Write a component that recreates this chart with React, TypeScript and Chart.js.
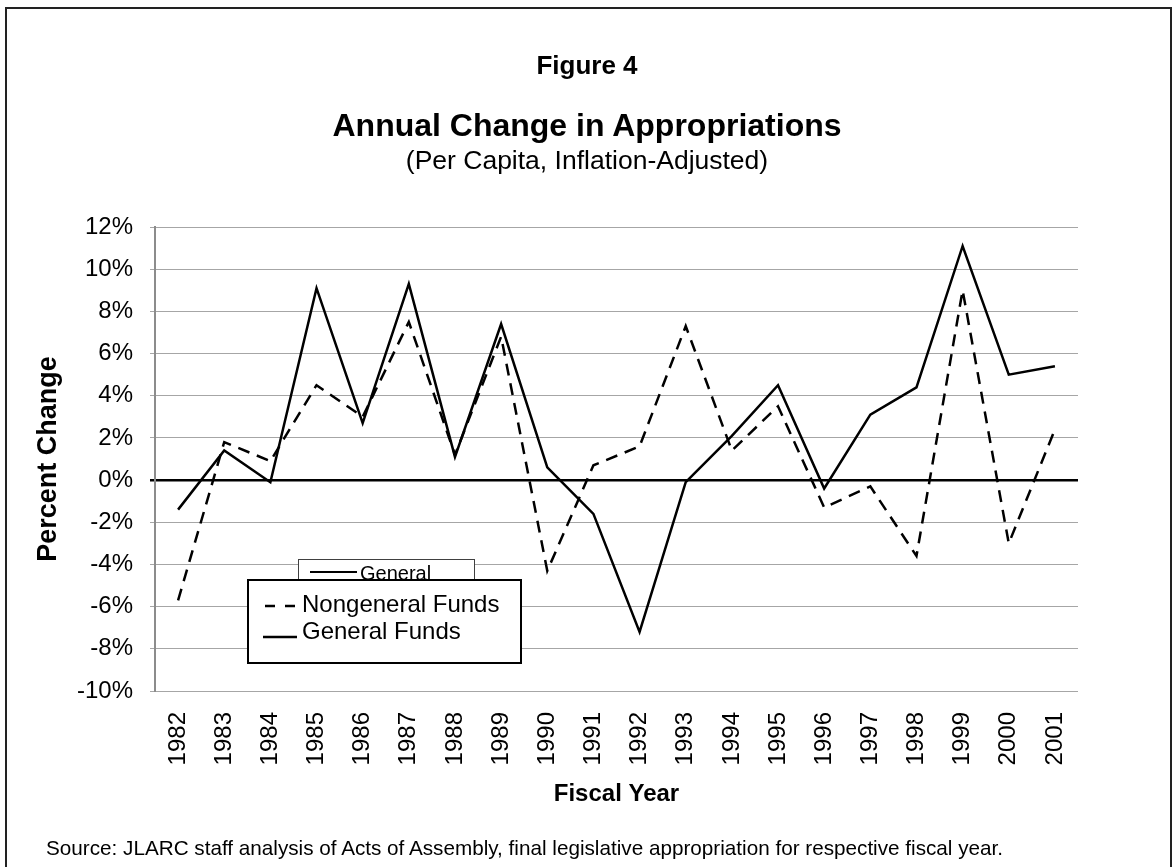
import React, { useEffect, useRef } from "react";
import { Chart, registerables } from "chart.js";

Chart.register(...registerables);

const years = [
  "1982", "1983", "1984", "1985", "1986", "1987", "1988", "1989", "1990", "1991",
  "1992", "1993", "1994", "1995", "1996", "1997", "1998", "1999", "2000", "2001",
];
const generalFunds = [
  -1.4, 1.4, -0.1, 9.1, 2.7, 9.3, 1.1, 7.4, 0.6, -1.6,
  -7.2, -0.1, 2.1, 4.5, -0.4, 3.1, 4.4, 11.1, 5.0, 5.4,
];
const nongeneralFunds = [
  -5.7, 1.8, 0.9, 4.5, 3.0, 7.5, 1.2, 6.8, -4.3, 0.7,
  1.6, 7.3, 1.4, 3.5, -1.3, -0.3, -3.6, 9.0, -3.0, 2.4,
];
const yMin = -10;
const yMax = 12;
const yStep = 2;

const FONT = '"Liberation Sans", Arial, Helvetica, sans-serif';

const legendPlugin = {
  id: "customLegend",
  afterDraw(chart: any) {
    const { ctx, chartArea: a } = chart;
    ctx.save();
    // back (stale) legend box
    const bx = a.left + 143;
    const by = a.top + 332;
    ctx.fillStyle = "#fff";
    ctx.fillRect(bx, by, 176, 40);
    ctx.strokeStyle = "#404040";
    ctx.lineWidth = 1;
    ctx.strokeRect(bx + 0.5, by + 0.5, 176, 40);
    ctx.beginPath();
    ctx.moveTo(bx + 12, by + 13);
    ctx.lineTo(bx + 59, by + 13);
    ctx.lineWidth = 2;
    ctx.strokeStyle = "#000";
    ctx.stroke();
    ctx.font = "20px " + FONT;
    ctx.fillStyle = "#000";
    ctx.textBaseline = "middle";
    ctx.textAlign = "left";
    ctx.fillText("General", bx + 62, by + 15);

    // front legend box
    const fx = a.left + 93;
    const fy = a.top + 353;
    const fw = 273;
    const fh = 83;
    ctx.fillStyle = "#fff";
    ctx.fillRect(fx, fy, fw, fh);
    ctx.strokeStyle = "#000";
    ctx.lineWidth = 2;
    ctx.strokeRect(fx, fy, fw, fh);

    // dashed sample
    ctx.beginPath();
    ctx.setLineDash([10, 10]);
    ctx.moveTo(fx + 17, fy + 26);
    ctx.lineTo(fx + 49, fy + 26);
    ctx.lineWidth = 2.5;
    ctx.stroke();
    ctx.setLineDash([]);
    // solid sample
    ctx.beginPath();
    ctx.moveTo(fx + 15, fy + 57);
    ctx.lineTo(fx + 49, fy + 57);
    ctx.stroke();

    ctx.font = "24px " + FONT;
    ctx.fillStyle = "#000";
    ctx.fillText("Nongeneral Funds", fx + 54, fy + 25);
    ctx.fillText("General Funds", fx + 54, fy + 52);
    ctx.restore();
  },
};

export default function App() {
  const canvasRef = useRef<HTMLCanvasElement | null>(null);

  useEffect(() => {
    if (!canvasRef.current) return;
    const chart = new Chart(canvasRef.current, {
      type: "line",
      data: {
        labels: years,
        datasets: [
          {
            label: "Nongeneral Funds",
            data: nongeneralFunds,
            borderColor: "#000",
            borderWidth: 2.5,
            borderDash: [12, 8],
            pointRadius: 0,
            tension: 0,
            fill: false,
          },
          {
            label: "General Funds",
            data: generalFunds,
            borderColor: "#000",
            borderWidth: 2.5,
            pointRadius: 0,
            tension: 0,
            fill: false,
          },
        ],
      },
      options: {
        responsive: false,
        animation: false,
        devicePixelRatio: 1,
        layout: {
          padding: { top: 227, right: 96, left: 0, bottom: 36 },
        },
        plugins: {
          legend: { display: false },
          tooltip: { enabled: false },
          title: { display: false },
        },
        scales: {
          x: {
            type: "category",
            offset: true,
            grid: { display: false, drawTicks: false },
            border: { display: false },
            afterFit: (s: any) => {
              s.height = 140;
            },
            ticks: {
              autoSkip: false,
              maxRotation: 90,
              minRotation: 90,
              padding: 21,
              color: "#000",
              font: { family: FONT, size: 24 },
            },
            title: {
              display: true,
              text: "Fiscal Year",
              color: "#000",
              font: { family: FONT, size: 24, weight: "bold" },
              padding: { top: 0, bottom: 22 },
            },
          },
          y: {
            min: yMin,
            max: yMax,
            afterFit: (s: any) => {
              s.width = 155;
            },
            ticks: {
              stepSize: yStep,
              padding: 17,
              color: "#000",
              font: { family: FONT, size: 24 },
              callback: (v: any) => v + "%",
            },
            grid: {
              color: (c: any) => (c.tick && c.tick.value === 0 ? "#000" : "#a6a6a6"),
              lineWidth: (c: any) => (c.tick && c.tick.value === 0 ? 2.5 : 1),
              tickLength: 5,
            },
            border: { display: true, color: "#8c8c8c", width: 2 },
            title: {
              display: true,
              text: "Percent Change",
              color: "#000",
              font: { family: FONT, size: 27, weight: "bold" },
              padding: { top: 32, bottom: 0 },
            },
          },
        },
      },
      plugins: [legendPlugin],
    });
    return () => chart.destroy();
  }, []);

  const center: React.CSSProperties = {
    position: "absolute",
    left: 0,
    width: 1174,
    textAlign: "center",
    fontFamily: FONT,
    color: "#000",
    whiteSpace: "nowrap",
  };

  return (
    <div
      style={{
        position: "absolute",
        left: 0,
        top: 0,
        width: 1174,
        height: 867,
        overflow: "hidden",
        background: "#fff",
      }}
    >
      <div
        style={{
          position: "absolute",
          left: 5,
          top: 7,
          width: 1163,
          height: 900,
          borderTop: "2px solid #222",
          borderLeft: "2px solid #222",
          borderRight: "2px solid #222",
        }}
      />
      <canvas
        ref={canvasRef}
        width={1174}
        height={867}
        style={{ position: "absolute", left: 0, top: 0, width: 1174, height: 867 }}
      />
      <div style={{ ...center, top: 45, height: 40, lineHeight: "40px", fontSize: 26, fontWeight: "bold" }}>
        Figure 4
      </div>
      <div style={{ ...center, top: 105, height: 40, lineHeight: "40px", fontSize: 32, fontWeight: "bold" }}>
        Annual Change in Appropriations
      </div>
      <div style={{ ...center, top: 142, height: 36, lineHeight: "36px", fontSize: 26.5 }}>
        (Per Capita, Inflation-Adjusted)
      </div>
      <div
        style={{
          position: "absolute",
          left: 46,
          top: 835,
          height: 26,
          lineHeight: "26px",
          fontSize: 20.7,
          fontFamily: FONT,
          color: "#000",
          whiteSpace: "nowrap",
        }}
      >
        Source: JLARC staff analysis of Acts of Assembly, final legislative appropriation for respective fiscal year.
      </div>
    </div>
  );
}
